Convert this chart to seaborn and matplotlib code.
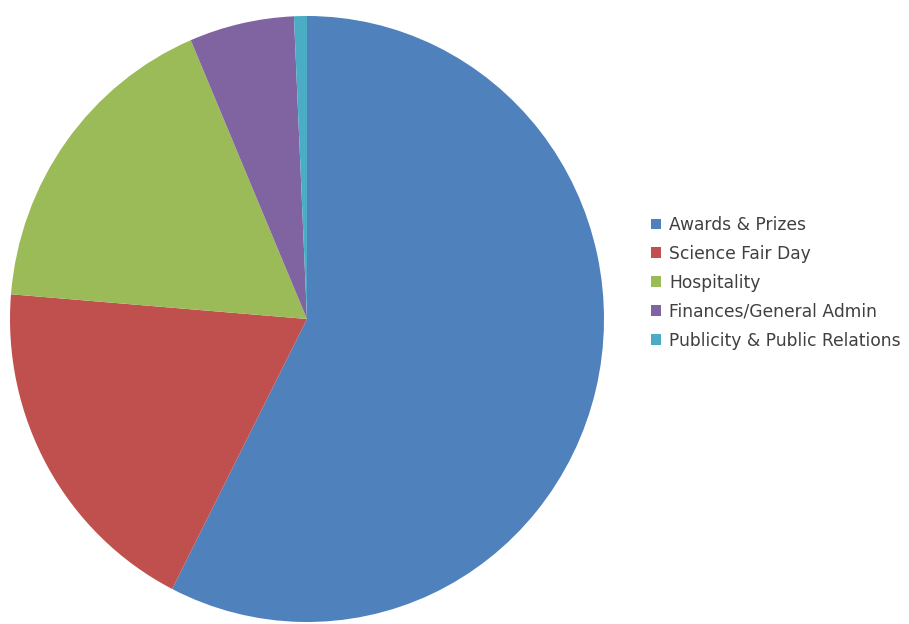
import matplotlib
matplotlib.use("Agg")
import matplotlib.pyplot as plt
import seaborn as sns

categories = ["Awards & Prizes", "Science Fair Day", "Hospitality",
              "Finances/General Admin", "Publicity & Public Relations"]
values = [57.5, 18.8, 17.3, 5.7, 0.7]
colors = ["#4F81BD", "#C0504D", "#9BBB59", "#8064A2", "#4BACC6"]

sns.set_theme(style="white")
plt.rcParams['font.family'] = ['DejaVu Sans']
palette = sns.color_palette(colors)

W, H = 909, 624
fig = plt.figure(figsize=(W / 100, H / 100), dpi=100)
cx, cy, rx, ry = 307, 319, 297, 303
ax = fig.add_axes([(cx - rx) / W, (H - cy - ry) / H, 2 * rx / W, 2 * ry / H])
wedges, _ = ax.pie(values, colors=palette, startangle=90, counterclock=False,
                   radius=1.0, wedgeprops=dict(linewidth=0))
ax.set_xlim(-1, 1)
ax.set_ylim(-1, 1)
ax.set_aspect("auto")
ax.axis("off")

leg = fig.legend(wedges, categories, loc="upper left",
                 bbox_to_anchor=(651 / W, 1 - 216 / H), frameon=False,
                 fontsize=12.3, handlelength=0.6, handleheight=0.6,
                 handletextpad=0.45, labelspacing=0.64, borderaxespad=0,
                 borderpad=0, labelcolor="#404040")
fig.savefig("out.png", dpi=100)
